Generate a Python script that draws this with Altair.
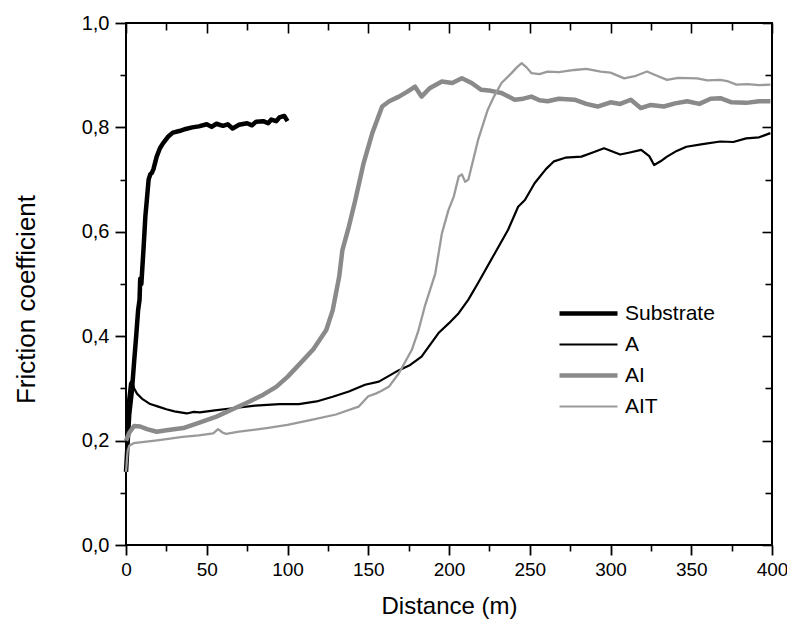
import altair as alt
import pandas as pd

series_names = ["Substrate", "A", "AI", "AIT"]
series_colors = ["#000000", "#000000", "#8a8a8a", "#9a9a9a"]
series_widths = {"Substrate": 4.5, "A": 2.2, "AI": 4.5, "AIT": 2.3}

sub_d = [0, 1, 2, 3.7, 5, 6.3, 7.5, 8.4, 8.8, 9.5, 10.8, 12, 12.9, 14, 15, 16, 17, 19, 21, 23, 26, 29, 33,
         37, 41, 45, 50, 53, 56, 60, 63, 66, 70, 75, 78, 80.6, 85, 88, 90, 93, 95, 98, 100]
sub_f = [0.14, 0.195, 0.25, 0.297, 0.35, 0.40, 0.45, 0.47, 0.51, 0.50, 0.565, 0.63, 0.661, 0.70, 0.71, 0.713,
         0.72, 0.744, 0.76, 0.77, 0.782, 0.79, 0.793, 0.797, 0.80, 0.802, 0.806, 0.801, 0.807, 0.803, 0.806,
         0.798, 0.805, 0.808, 0.804, 0.811, 0.812, 0.808, 0.815, 0.812, 0.819, 0.822, 0.812]

a_d = [0, 1, 2.5, 3.7, 5, 6.8, 10, 15, 20, 25, 30, 37.6, 42, 45.7, 55, 66, 80, 95, 107, 118, 128, 138, 148,
       156.6, 169, 176, 183, 193.5, 200, 206, 212, 218, 228.4, 236.6, 242.8, 247, 253, 260, 265, 272, 282,
       289, 296, 306, 312, 319, 324, 327, 331, 335, 341, 347, 357, 368, 376, 384, 392, 399]
a_f = [0.20, 0.27, 0.31, 0.315, 0.30, 0.29, 0.28, 0.27, 0.265, 0.26, 0.256, 0.252, 0.255, 0.254, 0.258, 0.262,
       0.267, 0.27, 0.27, 0.275, 0.284, 0.294, 0.307, 0.313, 0.335, 0.345, 0.361, 0.406, 0.425, 0.444, 0.47,
       0.502, 0.559, 0.604, 0.648, 0.661, 0.693, 0.72, 0.735, 0.742, 0.744, 0.752, 0.76, 0.748, 0.752, 0.757,
       0.745, 0.728, 0.735, 0.744, 0.755, 0.763, 0.768, 0.773, 0.772, 0.779, 0.781, 0.789]

ai_d = [0, 2, 5, 8.8, 13, 19, 25, 35.5, 45, 56, 66, 76.5, 85, 93, 100, 107, 116, 124, 128, 132, 134, 138, 142,
        147, 152.5, 158.6, 163, 169, 174, 179, 183, 188, 195.6, 202, 208, 214, 220, 226, 232.5, 240.7, 246,
        251, 256, 261, 268, 277.7, 285, 292, 300, 306, 312.6, 318.7, 325, 333, 340, 347.5, 355, 362, 368,
        375, 384, 392, 399]
ai_f = [0.20, 0.215, 0.228, 0.227, 0.222, 0.217, 0.22, 0.224, 0.234, 0.246, 0.26, 0.275, 0.288, 0.303, 0.322,
        0.345, 0.375, 0.412, 0.45, 0.514, 0.565, 0.61, 0.661, 0.73, 0.789, 0.84, 0.85, 0.859, 0.868, 0.878,
        0.859, 0.875, 0.888, 0.885, 0.894, 0.885, 0.872, 0.87, 0.866, 0.853, 0.855, 0.859, 0.852, 0.85,
        0.855, 0.853, 0.845, 0.84, 0.848, 0.845, 0.853, 0.837, 0.843, 0.84, 0.846, 0.85, 0.845, 0.855,
        0.856, 0.848, 0.847, 0.85, 0.85]

ait_d = [0, 1, 2, 4.7, 10, 18, 25, 35, 45, 54, 57, 60, 62, 70, 80, 87, 100, 115.5, 130, 144, 150, 154.6, 158,
         162.7, 169, 177, 181, 185, 191.5, 195.6, 199.7, 203, 206, 208, 210, 212, 215, 218, 224, 228, 232.5,
         238.7, 242, 245, 248, 251, 256, 261, 268, 277.7, 285, 294, 300, 308.5, 315, 322.6, 328, 335, 342,
         353.6, 360, 368, 373, 378, 385, 392, 399]
ait_f = [0.14, 0.18, 0.19, 0.195, 0.197, 0.2, 0.203, 0.207, 0.21, 0.214, 0.222, 0.215, 0.213, 0.217, 0.221,
         0.224, 0.23, 0.24, 0.25, 0.265, 0.285, 0.29, 0.295, 0.303, 0.329, 0.374, 0.41, 0.457, 0.52, 0.597,
         0.642, 0.668, 0.706, 0.71, 0.696, 0.70, 0.738, 0.776, 0.834, 0.86, 0.885, 0.904, 0.915, 0.923, 0.915,
         0.904, 0.902, 0.907, 0.906, 0.91, 0.912, 0.907, 0.905, 0.894, 0.898, 0.907, 0.9, 0.891, 0.895, 0.894,
         0.89, 0.891, 0.888, 0.882, 0.883, 0.881, 0.882]

x_major = [0, 50, 100, 150, 200, 250, 300, 350, 400]
x_minor = [25, 75, 125, 175, 225, 275, 325, 375]
y_major = [0.0, 0.2, 0.4, 0.6, 0.8, 1.0]
y_minor = [0.1, 0.3, 0.5, 0.7, 0.9]

rows = []
for name, xs, ys in [("Substrate", sub_d, sub_f), ("A", a_d, a_f), ("AI", ai_d, ai_f), ("AIT", ait_d, ait_f)]:
    for i, (xv, yv) in enumerate(zip(xs, ys)):
        rows.append({"series": name, "d": xv, "f": yv, "order": i, "sw": series_widths[name]})
df = pd.DataFrame(rows)

FONT = "Liberation Sans"
xscale = alt.Scale(domain=[0, 400], nice=False, zero=False)
yscale = alt.Scale(domain=[0, 1], nice=False, zero=False)

main = alt.Chart(df).mark_line(strokeJoin="round", strokeCap="butt").encode(
    x=alt.X("d:Q", scale=xscale, axis=alt.Axis(
        orient="bottom", values=x_major, tickSize=10, tickWidth=1.8, tickColor="black",
        domain=False, grid=False, labelFont=FONT, labelFontSize=19, labelColor="black",
        labelPadding=5, labelFlush=False, labelOverlap=False, format="d",
        title="Distance (m)", titleFont=FONT, titleFontSize=24, titleFontWeight="normal",
        titleColor="black", titleBaseline="alphabetic", titleY=68)),
    y=alt.Y("f:Q", scale=yscale, axis=alt.Axis(
        orient="left", values=y_major, tickSize=11, tickWidth=1.8, tickColor="black",
        domain=False, grid=False, labelFont=FONT, labelFontSize=20, labelColor="black",
        labelPadding=6, labelFlush=False, labelOverlap=False,
        labelExpr="replace(format(datum.value, '.1f'), '.', ',')",
        title="Friction coefficient", titleFont=FONT, titleFontSize=26, titleFontWeight="normal",
        titleColor="black", titleBaseline="middle", titleX=-100, titleY=276)),
    color=alt.Color("series:N", scale=alt.Scale(domain=series_names, range=series_colors),
                    sort=series_names,
                    legend=alt.Legend(
                        title=None, orient="none", legendX=434, legendY=280, symbolType="stroke",
                        symbolSize=3364, labelFont=FONT, labelFontSize=21, labelColor="black",
                        symbolOffset=18, labelOffset=26, rowPadding=9,
                        symbolStrokeWidth=alt.ExprRef(
                            expr="(datum.value == 'Substrate' || datum.value == 'AI') ? 4.5 : 2.2"),
                    )),
    strokeWidth=alt.StrokeWidth("sw:Q", scale=None),
    order="order:Q",
)

def ghost(xaxis, yaxis):
    return alt.Chart(df).mark_point(opacity=0, size=1).encode(
        x=alt.X("d:Q", scale=xscale, axis=xaxis),
        y=alt.Y("f:Q", scale=yscale, axis=yaxis),
    )

common = dict(domain=False, grid=False, labels=False, title=None, tickColor="black", tickWidth=1.6)
minor = ghost(
    alt.Axis(orient="bottom", values=x_minor, tickSize=6, **common),
    alt.Axis(orient="left", values=y_minor, tickSize=6, **common),
)
top_right_major = ghost(
    alt.Axis(orient="top", values=x_major, tickSize=10, offset=-10, **common),
    alt.Axis(orient="right", values=y_major, tickSize=10, offset=-10, **common),
)
top_right_minor = ghost(
    alt.Axis(orient="top", values=x_minor, tickSize=7, offset=-7, **common),
    alt.Axis(orient="right", values=y_minor, tickSize=7, offset=-7, **common),
)

chart = alt.layer(main, minor, top_right_major, top_right_minor).resolve_axis(
    x="independent", y="independent"
).properties(
    width=646, height=522,
    autosize=alt.AutoSizeParams(type="none"),
    padding={"left": 118, "top": 15, "right": 15, "bottom": 74},
    background="white",
).configure_view(stroke="black", strokeWidth=2)

chart.save("out.html", embed_options={"renderer": "svg", "actions": False})
